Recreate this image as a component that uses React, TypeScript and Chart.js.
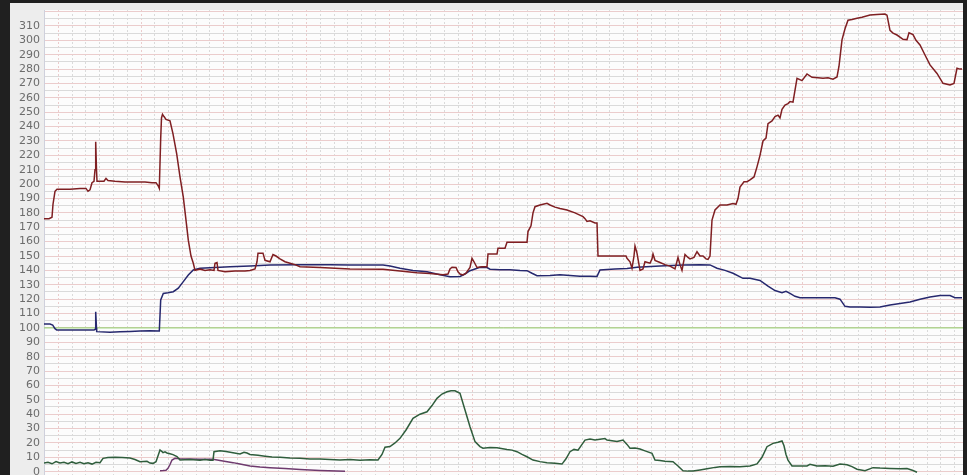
import React, { useEffect, useRef } from 'react';
import { Chart, registerables } from 'chart.js';

Chart.register(...registerables);

// Sample index runs along x; values are the measured readings.
const X_MAX = 919;
const Y_MIN = -7.86;
const Y_MAX = 321.1;
const GRID_START = 14.3;
const GRID_STEP = 13.79;

const limitLine: [number, number][] = [
  [0, 100], [919, 100],
];

const redTrace: [number, number][] = [
  [0, 176], [5, 176], [8, 177], [9, 186], [11, 195], [13, 196.5], [26, 196.5], [36, 197], [42, 197], [44, 195],
  [46, 196], [48, 201], [50, 202], [51, 210], [51.7, 229.5], [52.5, 210], [53, 202], [56, 202], [60, 202], [62, 204],
  [64, 202.5], [71, 202], [81, 201.5], [91, 201.5], [101, 201.5], [108, 201], [112, 201], [114, 199], [115.3, 197], [116.7, 232],
  [117.5, 246], [118.5, 248.6], [120, 247], [122, 245], [126, 244], [129, 235], [132.7, 221], [136, 205], [139.3, 191], [142, 175],
  [144.3, 161], [147, 150], [149.3, 145], [151, 140], [156, 141], [161, 140], [166, 140.5], [170, 140], [171, 145], [173, 145.5],
  [174, 140], [181, 139], [191, 139.5], [201, 139.5], [206, 140], [211, 141], [213, 146], [214, 152], [219, 152], [221, 147],
  [226, 146], [229, 151], [232, 150], [236, 148], [241, 146], [246, 145], [251, 144], [256, 142.5], [276, 142], [306, 141],
  [339, 140.8], [356, 139.5], [373, 138.4], [386, 137.8], [399, 137], [404, 137.5], [406, 141], [408, 142.2], [412, 142], [414, 139],
  [416, 137.5], [419, 136.8], [422, 138], [426, 142], [428, 148.4], [430, 146], [433, 142], [438, 142.6], [443, 142.6], [444, 151.4],
  [453, 151.4], [454, 155.4], [461, 155.4], [463, 159.5], [483, 159.5], [484, 167], [487, 171], [489, 180], [491, 184.3], [496, 185.5],
  [503, 186.7], [506, 185.5], [511, 184], [516, 183], [523, 182], [531, 180], [539, 177.4], [541, 176], [543, 174], [546, 174.5],
  [551, 173], [553, 173], [554, 150], [566, 150], [576, 150], [582, 150], [583, 148.4], [586, 146], [588, 141.5], [590, 150],
  [591, 157], [593, 152], [596, 140], [599, 141], [601, 146], [606, 145], [608, 148], [609, 151.4], [611, 147], [616, 145.5],
  [621, 144], [626, 143], [631, 141], [634, 149], [636, 144], [638, 140], [641, 151], [644, 149], [646, 148], [650, 149],
  [653, 153], [656, 150], [659, 150], [662, 148], [664, 147.6], [666, 150], [668, 175], [671, 182], [676, 185.5], [683, 185.5],
  [689, 186.5], [692, 186], [694, 190], [696, 198], [700, 201.7], [703, 201.7], [706, 203], [710, 205], [713, 212], [716, 220],
  [719, 230], [722, 232], [724, 242], [728, 244], [731, 247], [734, 248], [736, 246], [738, 252], [741, 255], [744, 256],
  [746, 257.4], [749, 257], [753, 273.6], [758, 272], [763, 276.6], [768, 274.3], [774, 274], [779, 273.6], [784, 274], [789, 273],
  [793, 274.5], [795, 282], [798, 300.3], [801, 308], [804, 314], [808, 314.5], [813, 315.4], [818, 316], [826, 317.6], [833, 318],
  [841, 318.3], [843, 317.5], [846, 307], [849, 305], [853, 303.7], [859, 300.7], [863, 300.5], [865, 305.3], [869, 304], [872, 300],
  [876, 296.8], [881, 289.8], [886, 282.9], [893, 277], [899, 270.1], [906, 269], [910, 270], [913, 280.6], [916, 280], [918, 280],
];

const blueTrace: [number, number][] = [
  [0, 102.7], [6, 102.7], [8.7, 102], [11, 99.5], [12.7, 98.6], [26, 98.6], [36, 98.5], [50, 98.5], [51, 99], [51.7, 111.3],
  [52.5, 100], [52.7, 97.4], [66, 97], [76, 97.3], [86, 97.5], [96, 97.8], [106, 98], [115.3, 97.8], [116.7, 119.4], [119.3, 124],
  [124, 124.5], [129.3, 125.2], [134.3, 127.6], [139.3, 132.2], [144.3, 136.8], [149.3, 140.3], [156, 141.5], [171, 142], [186, 142.5], [206, 143],
  [226, 143.8], [256, 144], [286, 144], [306, 143.8], [339, 143.8], [346, 143], [356, 141.5], [369, 140], [383, 139.1], [396, 137],
  [406, 135.6], [416, 135.8], [421, 137.5], [426, 139.8], [436, 142.2], [443, 142], [446, 140.8], [456, 140.5], [466, 140.5], [476, 140],
  [483, 139.8], [488, 138], [493, 136.3], [506, 136.5], [516, 137], [526, 136.5], [536, 136], [546, 136], [553, 135.8], [556, 140.3],
  [571, 141], [583, 141.4], [593, 142.2], [616, 143], [639, 143.8], [656, 144], [666, 143.8], [673, 141.5], [681, 140], [689, 138],
  [699, 134.5], [706, 134.5], [716, 133], [724, 129], [731, 126], [738, 124.5], [742, 125.5], [746, 124], [751, 122], [756, 121],
  [766, 121], [776, 121], [791, 121], [796, 120], [801, 115], [806, 114.5], [816, 114.5], [826, 114.3], [836, 114.5], [846, 116],
  [856, 117], [866, 118], [876, 120], [886, 121.5], [896, 122.5], [906, 122.5], [911, 121], [918, 121],
];

const greenTrace: [number, number][] = [
  [0, 6], [4, 6.5], [8, 5.5], [12, 7], [16, 6], [20, 6.5], [24, 5.5], [28, 6.8], [32, 5.8], [36, 6.5],
  [40, 5.5], [44, 6.2], [48, 5.3], [52, 6.5], [56, 6.2], [59, 9.3], [64, 9.8], [71, 10], [78, 9.8], [86, 9.5],
  [91, 8.5], [96, 7], [103, 7.2], [106, 6], [109, 5.8], [112, 7], [116, 15.1], [118, 14], [119, 13.2], [121, 13.8],
  [123, 13], [126, 12.5], [129, 11.9], [133, 10.5], [136, 8.1], [146, 8.5], [156, 8], [161, 8.5], [166, 8], [169, 8],
  [170, 13.9], [176, 14.6], [182, 14], [189, 13.2], [196, 12.3], [200, 13.5], [203, 13], [206, 12], [214, 11.5], [221, 10.8],
  [228, 10.2], [236, 10], [246, 9.5], [256, 9.3], [266, 8.8], [276, 8.8], [286, 8.5], [296, 8.1], [306, 8.5], [316, 8],
  [326, 8.3], [334, 8.1], [338, 12], [341, 17], [346, 17.5], [351, 20], [356, 23.2], [362, 29], [369, 37.1], [376, 40],
  [383, 41.7], [388, 46], [393, 51], [398, 54], [403, 55.6], [407, 56.3], [411, 56.3], [416, 54.5], [421, 42.9], [426, 31.3],
  [431, 20.9], [436, 17.5], [439, 16.3], [446, 16.8], [453, 16.7], [463, 15.5], [468, 15], [473, 13.9], [478, 12], [483, 10.4],
  [489, 8.1], [496, 7], [503, 6.3], [511, 5.8], [518, 5.3], [522, 9], [526, 13.9], [530, 15.5], [534, 15], [537, 18],
  [541, 22], [546, 22.8], [551, 22], [556, 22.5], [561, 23], [563, 22], [568, 21.5], [573, 21], [579, 22], [583, 19],
  [586, 16.3], [591, 16.5], [596, 15.8], [601, 14.5], [608, 12.8], [611, 8.1], [616, 7.8], [621, 7.2], [629, 6.9], [634, 4],
  [639, 0.7], [644, 0.4], [649, 0.5], [656, 1.2], [663, 2], [671, 3], [676, 3.4], [686, 3.6], [696, 3.4], [706, 4],
  [713, 5.4], [718, 10], [723, 17.4], [729, 19.7], [734, 20.5], [738, 21.4], [740, 18], [742, 12], [744, 8.1], [748, 4],
  [756, 4], [763, 4], [766, 5.1], [773, 4], [781, 4.2], [789, 3.8], [796, 5.3], [803, 4.8], [808, 3.5], [813, 1.7],
  [821, 0.7], [829, 2.8], [836, 2.5], [846, 2.3], [856, 2], [863, 2.2], [869, 0.8], [873, -0.4],
];

const purpleTrace: [number, number][] = [
  [116, 0.7], [119, 0.8], [122, 1], [124, 2.3], [126, 5], [128, 8.1], [131, 9.3], [136, 9], [146, 8.8], [156, 8.6],
  [169, 8.6], [176, 7.8], [189, 6.3], [196, 5.3], [206, 4], [216, 3.2], [226, 2.8], [241, 2.2], [256, 1.5], [276, 0.8],
  [301, 0.3],
];

const toPoints = (arr: [number, number][]) => arr.map(([x, y]) => ({ x, y }));

const plotBackground = {
  id: 'plotBackground',
  beforeDraw(chart: any) {
    const { ctx, chartArea } = chart;
    ctx.save();
    ctx.fillStyle = '#fcfcfc';
    ctx.fillRect(chartArea.left, chartArea.top, chartArea.right - chartArea.left, chartArea.bottom - chartArea.top);
    ctx.restore();
  },
};

export default function App() {
  const canvasRef = useRef<HTMLCanvasElement>(null);

  useEffect(() => {
    if (!canvasRef.current) return;
    const line = (data: [number, number][], color: string, width = 1.5) => ({
      data: toPoints(data),
      borderColor: color,
      borderWidth: width,
      pointRadius: 0,
      tension: 0,
      fill: false,
    });
    const chart = new Chart(canvasRef.current, {
      type: 'line',
      data: {
        datasets: [
          line(redTrace, '#7f1f22'),
          line(blueTrace, '#26286e'),
          line(greenTrace, '#2f5d3c'),
          line(purpleTrace, '#6e3a6e'),
          line(limitLine, '#8ed46c', 1),
        ],
      },
      options: {
        animation: false,
        responsive: false,
        maintainAspectRatio: false,
        layout: { padding: { top: 7, left: 0, right: 0, bottom: 0 } },
        plugins: { legend: { display: false }, tooltip: { enabled: false } },
        scales: {
          x: {
            type: 'linear',
            min: 0,
            max: X_MAX,
            afterBuildTicks(axis: any) {
              const ticks = [];
              for (let v = GRID_START; v < X_MAX; v += GRID_STEP) ticks.push({ value: v });
              axis.ticks = ticks;
            },
            afterFit(scale: any) {
              scale.height = 0;
              scale.paddingLeft = 0;
              scale.paddingRight = 0;
            },
            ticks: { display: false, autoSkip: false },
            grid: {
              drawTicks: false,
              lineWidth: 1,
              color: (c: any) => (c.index % 6 === 0 ? '#ebcccc' : '#dadada'),
            },
            border: { display: false, dash: [2, 2] },
          },
          y: {
            min: Y_MIN,
            max: Y_MAX,
            afterFit(scale: any) {
              scale.width = 34;
              scale.paddingTop = 0;
              scale.paddingBottom = 0;
            },
            ticks: {
              stepSize: 5,
              includeBounds: false,
              autoSkip: false,
              padding: 4,
              color: '#6c6c6c',
              font: { family: 'DejaVu Sans', size: 11 },
              callback: (v: any) => (v % 10 === 0 && v < 320 ? String(v) : ''),
            },
            grid: {
              drawTicks: false,
              lineWidth: 1,
              color: (c: any) => (c.tick && c.tick.value % 10 === 0 ? '#ebcccc' : '#dadada'),
            },
            border: { display: true, color: '#cfd0dc', width: 1 },
          },
        },
      },
      plugins: [plotBackground],
    } as any);
    return () => chart.destroy();
  }, []);

  return (
    <div style={{ position: 'fixed', left: 0, top: 0, width: 967, height: 475, background: '#202020', overflow: 'hidden' }}>
      <div style={{ position: 'absolute', left: 10, top: 3, width: 953, height: 480, background: '#ededed' }}>
        <canvas ref={canvasRef} width={953} height={480} style={{ display: 'block' }} />
      </div>
    </div>
  );
}
